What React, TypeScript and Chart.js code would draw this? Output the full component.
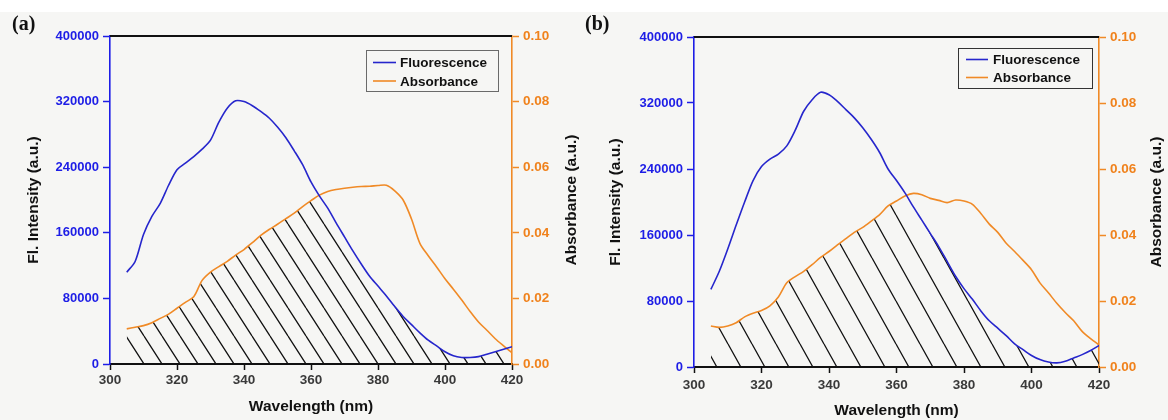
import React, { useEffect, useRef } from 'react';
import { Chart, registerables } from 'chart.js';

Chart.register(...registerables);

// ---------------- data ----------------
const wavelengths = [
  305, 307.5, 310, 312.5, 315, 317.5, 320, 322.5, 325, 327.5, 330, 332.5, 335, 337.5, 340, 342.5,
  345, 347.5, 350, 352.5, 355, 357.5, 360, 362.5, 365, 367.5, 370, 372.5, 375, 377.5, 380, 382.5,
  385, 387.5, 390, 392.5, 395, 397.5, 400, 402.5, 405, 407.5, 410, 412.5, 415, 417.5, 420,
];

const fluorescenceA = [
  112000, 125000, 158000, 180000, 196000, 218000, 237000, 245000, 253000, 262000, 273000, 295000,
  312000, 321000, 320000, 315000, 308000, 300000, 289000, 276000, 260000, 243000, 222000, 205000,
  190000, 172000, 155000, 138000, 122000, 107000, 95000, 83000, 70000, 58000, 48000, 38000,
  29000, 22000, 15000, 10000, 8000, 8000, 9000, 12000, 15000, 18000, 21000,
];

const absorbanceA = [
  0.0107, 0.0112, 0.0117, 0.0126, 0.0139, 0.0152, 0.017, 0.0188, 0.0205, 0.0255, 0.028, 0.0297,
  0.0313, 0.0332, 0.0349, 0.037, 0.0392, 0.041, 0.0426, 0.0443, 0.046, 0.048, 0.0498, 0.0515,
  0.0526, 0.0532, 0.0536, 0.0539, 0.0541, 0.0542, 0.0544, 0.0545, 0.0528, 0.05, 0.0442, 0.0368,
  0.033, 0.0296, 0.026, 0.0228, 0.0195, 0.016, 0.0128, 0.0103, 0.0077, 0.0055, 0.0034,
];

const fluorescenceB = [
  94000, 116000, 143000, 172000, 200000, 226000, 243000, 252000, 258000, 268000, 287000, 310000,
  324000, 333000, 330000, 322000, 312000, 302000, 290000, 276000, 260000, 240000, 226000, 211000,
  194000, 178000, 162000, 146000, 128000, 110000, 95000, 82000, 68000, 56000, 47000, 38000,
  28000, 21000, 14000, 9000, 6000, 5000, 7000, 11000, 15000, 20000, 26000,
];

const absorbanceB = [
  0.0124, 0.012, 0.0124, 0.0134, 0.0152, 0.0163, 0.0171, 0.0185, 0.0212, 0.0255, 0.0274, 0.029,
  0.031, 0.0332, 0.035, 0.037, 0.0389, 0.0408, 0.0423, 0.0442, 0.0462, 0.0488, 0.0503, 0.0518,
  0.0526, 0.0522, 0.0511, 0.0505, 0.0498, 0.0506, 0.0503, 0.0493, 0.0465, 0.0433, 0.0408, 0.0375,
  0.035, 0.0323, 0.0295, 0.0255, 0.0225, 0.0193, 0.0165, 0.014, 0.0108, 0.0086, 0.0067,
];

const xTicks = [300, 320, 340, 360, 380, 400, 420];
const flTicks = [0, 80000, 160000, 240000, 320000, 400000];
const absTicks = [0, 0.02, 0.04, 0.06, 0.08, 0.1];

const FL_MAX = 400000;
const ABS_MAX = 0.1;

// ---------------- styles ----------------
const FONT = '"Liberation Sans", Arial, sans-serif';
const BLUE_LINE = '#2626cc';
const BLUE_TEXT = '#1d1de6';
const ORANGE_LINE = '#f08a26';
const ORANGE_TEXT = '#f0821c';
const INK = '#111111';

Chart.defaults.font.family = FONT;

function makeHatch(w: number, h: number): CanvasPattern | string {
  const c = document.createElement('canvas');
  c.width = w;
  c.height = h;
  const g = c.getContext('2d');
  if (!g) return 'rgba(0,0,0,0.2)';
  g.strokeStyle = '#111';
  g.lineWidth = 1.3;
  g.beginPath();
  for (const dx of [-w, 0, w]) {
    g.moveTo(dx, 0);
    g.lineTo(dx + w, h);
  }
  g.stroke();
  return g.createPattern(c, 'repeat') || 'rgba(0,0,0,0.2)';
}

const decorPlugin = {
  id: 'decor',
  afterDatasetsDraw(chart: any, _args: any, opts: any) {
    const { ctx, chartArea } = chart;
    const { left, right, top, bottom } = chartArea;
    ctx.save();
    // top frame line
    ctx.strokeStyle = INK;
    ctx.lineWidth = 2;
    ctx.beginPath();
    ctx.moveTo(left, top);
    ctx.lineTo(right, top);
    ctx.stroke();

    // legend box
    const bx = right - opts.boxRight;
    const by = top + opts.boxTop;
    ctx.strokeStyle = opts.boxBorder;
    ctx.lineWidth = 1;
    ctx.strokeRect(bx + 0.5, by + 0.5, opts.boxW, opts.boxH);
    const items = chart.data.datasets.slice(0, 2);
    ctx.font = `bold 13.5px ${FONT}`;
    ctx.textBaseline = 'middle';
    ctx.textAlign = 'left';
    items.forEach((ds: any, i: number) => {
      const yy = by + opts.rowY[i];
      ctx.strokeStyle = ds.borderColor;
      ctx.lineWidth = 1.6;
      ctx.beginPath();
      ctx.moveTo(bx + opts.sampleX0, yy);
      ctx.lineTo(bx + opts.sampleX1, yy);
      ctx.stroke();
      ctx.fillStyle = INK;
      ctx.fillText(ds.label, bx + opts.textX, yy + 1);
    });

    // right axis title (reads bottom to top)
    ctx.translate(right + opts.rightTitleDx, (top + bottom) / 2);
    ctx.rotate(-Math.PI / 2);
    ctx.textAlign = 'center';
    ctx.textBaseline = 'middle';
    ctx.font = `bold 15.5px ${FONT}`;
    ctx.fillStyle = INK;
    ctx.fillText('Absorbance (a.u.)', 0, 0);
    ctx.restore();
  },
};

type PanelCfg = {
  label: string;
  left: number;
  labelLeft: number;
  fl: number[];
  abs: number[];
  padTop: number;
  y1Width: number;
  xHeight: number;
  hatchW: number;
  hatchH: number;
  xTickPad: number;
  xTitlePad: number;
  yTitlePad: number;
  decor: any;
};

const panels: PanelCfg[] = [
  {
    label: '(a)',
    left: 0,
    labelLeft: 12,
    fl: fluorescenceA,
    abs: absorbanceA,
    padTop: 36,
    y1Width: 72,
    xHeight: 56,
    hatchW: 18,
    hatchH: 28,
    xTickPad: 2,
    xTitlePad: 4,
    yTitlePad: 24,
    decor: {
      boxRight: 146, boxTop: 14, boxW: 132, boxH: 41, boxBorder: '#6a6a6a',
      rowY: [12.5, 31], sampleX0: 7, sampleX1: 30, textX: 34, rightTitleDx: 60,
    },
  },
  {
    label: '(b)',
    left: 584,
    labelLeft: 585,
    fl: fluorescenceB,
    abs: absorbanceB,
    padTop: 37,
    y1Width: 69,
    xHeight: 53,
    hatchW: 24,
    hatchH: 43,
    xTickPad: 4,
    xTitlePad: 0,
    yTitlePad: 22,
    decor: {
      boxRight: 141, boxTop: 11, boxW: 134, boxH: 40, boxBorder: '#333333',
      rowY: [11.5, 29.5], sampleX0: 8, sampleX1: 30, textX: 35, rightTitleDx: 58,
    },
  },
];

function Panel({ cfg }: { cfg: PanelCfg }) {
  const ref = useRef<HTMLCanvasElement>(null);
  useEffect(() => {
    const canvas = ref.current;
    if (!canvas) return;
    const hatch = makeHatch(cfg.hatchW, cfg.hatchH);
    const flPts = wavelengths.map((w, i) => ({ x: w, y: cfg.fl[i] }));
    const absPts = wavelengths.map((w, i) => ({ x: w, y: cfg.abs[i] }));
    const overlapPts = wavelengths.map((w, i) => ({
      x: w,
      y: Math.min(cfg.abs[i], (cfg.fl[i] / FL_MAX) * ABS_MAX),
    }));
    const chart = new Chart(canvas, {
      type: 'line',
      data: {
        datasets: [
          {
            label: 'Fluorescence',
            data: flPts,
            yAxisID: 'y',
            borderColor: BLUE_LINE,
            borderWidth: 1.6,
            pointRadius: 0,
            tension: 0.3,
            fill: false,
          },
          {
            label: 'Absorbance',
            data: absPts,
            yAxisID: 'y1',
            borderColor: ORANGE_LINE,
            borderWidth: 1.6,
            pointRadius: 0,
            tension: 0.3,
            fill: false,
          },
          {
            label: 'Overlap',
            data: overlapPts,
            yAxisID: 'y1',
            borderColor: 'rgba(0,0,0,0)',
            borderWidth: 0,
            backgroundColor: hatch as any,
            pointRadius: 0,
            tension: 0.3,
            fill: 'origin',
          },
        ],
      },
      options: {
        responsive: false,
        animation: false,
        events: [],
        layout: { padding: { top: cfg.padTop, left: 0, right: 0, bottom: 0 } },
        plugins: {
          legend: { display: false },
          tooltip: { enabled: false },
          decor: cfg.decor,
        } as any,
        scales: {
          x: {
            type: 'linear',
            min: 300,
            max: 420,
            afterBuildTicks: (s: any) => {
              s.ticks = xTicks.map((v) => ({ value: v }));
            },
            afterFit: (s: any) => {
              s.height = cfg.xHeight;
            },
            border: { color: INK, width: 2 },
            grid: { drawOnChartArea: false, tickLength: 6, tickColor: INK, tickWidth: 1.5 },
            ticks: {
              color: '#3a3a3a',
              font: { size: 13.5, weight: 'bold' },
              padding: cfg.xTickPad,
              maxRotation: 0,
              callback: (v: any) => String(v),
            },
            title: {
              display: true,
              text: 'Wavelength (nm)',
              color: INK,
              font: { size: 15.5, weight: 'bold' },
              padding: { top: 0, bottom: cfg.xTitlePad },
            },
          },
          y: {
            position: 'left',
            min: 0,
            max: FL_MAX,
            afterBuildTicks: (s: any) => {
              s.ticks = flTicks.map((v) => ({ value: v }));
            },
            afterFit: (s: any) => {
              s.width = 110;
            },
            border: { color: BLUE_TEXT, width: 1.6 },
            grid: { drawOnChartArea: false, tickLength: 7, tickColor: BLUE_TEXT, tickWidth: 1.5 },
            ticks: {
              color: BLUE_TEXT,
              font: { size: 13, weight: 'bold' },
              padding: 4,
              callback: (v: any) => String(v),
            },
            title: {
              display: true,
              text: 'Fl. Intensity (a.u.)',
              color: INK,
              font: { size: 15.5, weight: 'bold' },
              padding: { top: cfg.yTitlePad, bottom: 0 },
            },
          },
          y1: {
            position: 'right',
            min: 0,
            max: ABS_MAX,
            afterBuildTicks: (s: any) => {
              s.ticks = absTicks.map((v) => ({ value: v }));
            },
            afterFit: (s: any) => {
              s.width = cfg.y1Width;
            },
            border: { color: ORANGE_LINE, width: 1.6 },
            grid: { drawOnChartArea: false, tickLength: 7, tickColor: ORANGE_LINE, tickWidth: 1.5 },
            ticks: {
              color: ORANGE_TEXT,
              font: { size: 13.5, weight: 'bold' },
              padding: 4,
              callback: (v: any) => Number(v).toFixed(2),
            },
            title: { display: false },
          },
        },
      } as any,
      plugins: [decorPlugin as any],
    });
    return () => chart.destroy();
  }, [cfg]);

  return (
    <>
      <canvas
        ref={ref}
        width={584}
        height={420}
        style={{ position: 'absolute', left: cfg.left, top: 0, width: 584, height: 420, display: 'block' }}
      />
      <div
        style={{
          position: 'absolute',
          left: cfg.labelLeft,
          top: 12,
          fontFamily: '"Liberation Serif", "DejaVu Serif", serif',
          fontWeight: 'bold',
          fontSize: 20,
          lineHeight: '22px',
          color: '#111',
        }}
      >
        {cfg.label}
      </div>
    </>
  );
}

export default function App() {
  return (
    <div
      style={{
        position: 'fixed',
        left: 0,
        top: 0,
        width: 1168,
        height: 420,
        overflow: 'hidden',
        background: '#ffffff',
      }}
    >
      <div style={{ position: 'absolute', left: 0, top: 12, width: 1168, height: 408, background: '#f6f6f4' }} />
      {panels.map((p) => (
        <Panel key={p.label} cfg={p} />
      ))}
    </div>
  );
}
